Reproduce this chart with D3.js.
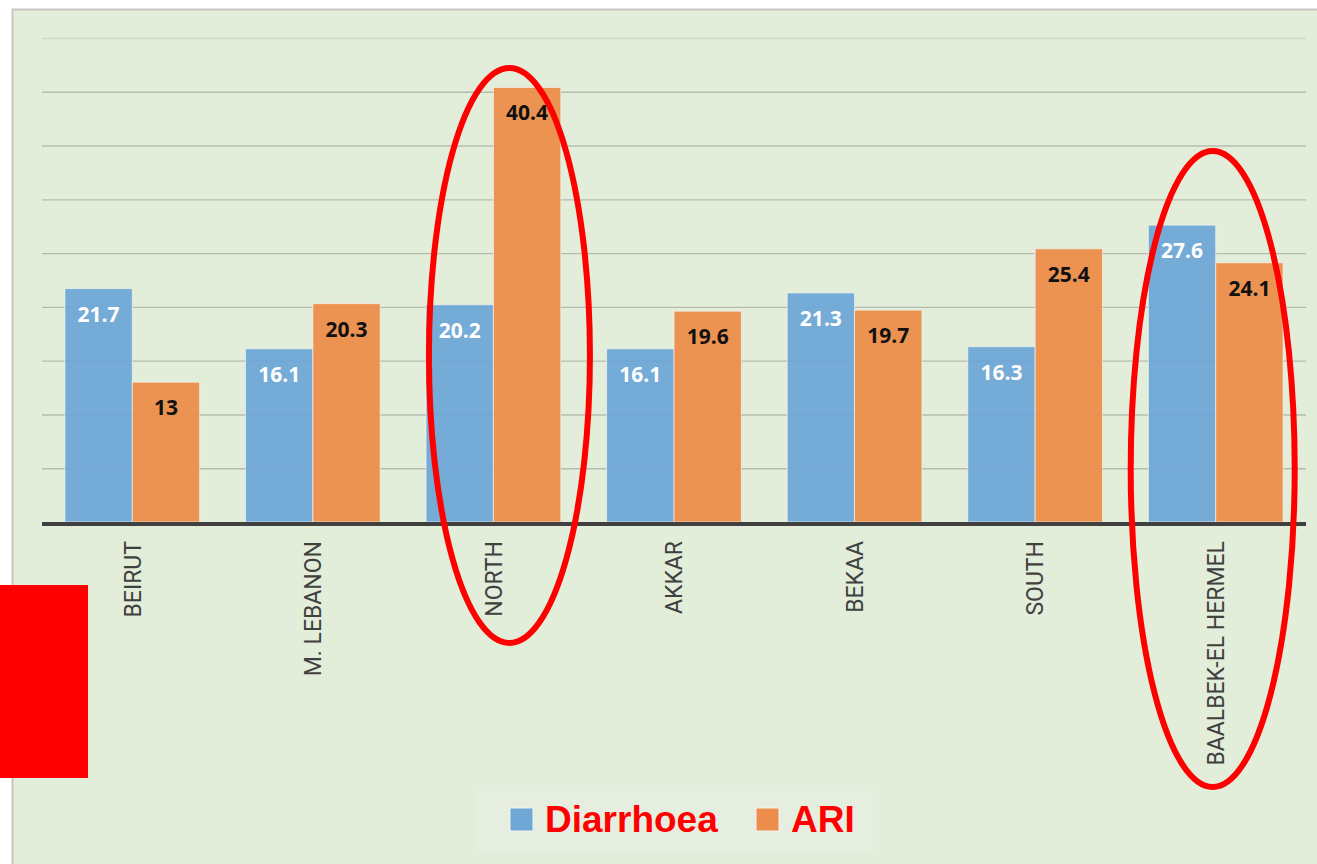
<!DOCTYPE html>
<html>
<head>
<meta charset="utf-8">
<script src="https://cdn.jsdelivr.net/npm/d3@7"></script>
<style>
  body { margin: 0; background: #fff; }
  svg { display: block; }
</style>
</head>
<body>
<svg width="1317" height="864"></svg>
<script>
var regions = ["BEIRUT", "M. LEBANON", "NORTH", "AKKAR", "BEKAA", "SOUTH", "BAALBEK-EL HERMEL"];
var series = ["Diarrhoea", "ARI"];
var diarrhoea = [21.7, 16.1, 20.2, 16.1, 21.3, 16.3, 27.6];
var ari = [13, 20.3, 40.4, 19.6, 19.7, 25.4, 24.1];
var gridTicks = [5, 10, 15, 20, 25, 30, 35, 40, 45];
var colors = ["#6fa7d7", "#ec8d4b"];

var svg = d3.select("svg"),
    plotLeft = 42, plotRight = 1306, plotTop = 38, base = 522;

// frame
svg.append("rect")
  .attr("x", 12.5).attr("y", 9.5)
  .attr("width", 1400).attr("height", 1000)
  .attr("fill", "#e2eed9")
  .attr("stroke", "#c6c6c6")
  .attr("stroke-width", 2);

var x0 = d3.scaleBand().domain(regions).range([plotLeft, plotRight]).padding(0),
    x1 = d3.scaleBand().domain(series).range([0, x0.bandwidth()]).paddingOuter(0.34),
    y = d3.scaleLinear().domain([0, 45]).range([base, plotTop]);

// gridlines
svg.append("g")
  .selectAll("line")
  .data(gridTicks)
  .enter().append("line")
  .attr("x1", plotLeft).attr("x2", plotRight)
  .attr("y1", function(d) { return y(d) + 0.5; })
  .attr("y2", function(d) { return y(d) + 0.5; })
  .attr("stroke", function(d) { return d == 45 ? "#d0d9c8" : "#b5bcaf"; })
  .attr("stroke-width", 1.4);

var rows = regions.map(function(r, i) { return {region: r, values: [diarrhoea[i], ari[i]]}; });

var group = svg.selectAll(".grp")
  .data(rows)
  .enter().append("g")
  .attr("class", "grp")
  .attr("transform", function(d) { return "translate(" + x0(d.region) + ",0)"; });

var bars = group.selectAll("g.bar")
  .data(function(d) { return d.values.map(function(v, j) { return {key: series[j], value: v, j: j}; }); })
  .enter().append("g").attr("class", "bar");

bars.append("rect")
  .attr("x", function(d) { return x1(d.key); })
  .attr("width", x1.bandwidth())
  .attr("y", function(d) { return y(d.value); })
  .attr("height", function(d) { return base - y(d.value); })
  .attr("fill", function(d) { return colors[d.j]; })
  .attr("fill-opacity", 0.95)
  .attr("stroke", "#f3f3ee")
  .attr("stroke-opacity", 0.7)
  .attr("stroke-width", 1);

bars.append("text")
  .attr("x", function(d) { return x1(d.key) + x1.bandwidth() / 2; })
  .attr("y", function(d) { return y(d.value) + 33; })
  .attr("text-anchor", "middle")
  .style("font", "bold 21px 'Open Sans', sans-serif")
  .attr("fill", function(d) { return d.j == 0 ? "#ffffff" : "#111111"; })
  .text(function(d) { return d.value; });

// baseline
svg.append("line")
  .attr("x1", plotLeft).attr("x2", plotRight)
  .attr("y1", base + 2).attr("y2", base + 2)
  .attr("stroke", "#404040")
  .attr("stroke-width", 4);

// category labels
svg.append("g")
  .selectAll("text")
  .data(regions)
  .enter().append("text")
  .attr("transform", function(d) { return "translate(" + (x0(d) + x0.bandwidth() / 2) + ",541) rotate(-90)"; })
  .attr("text-anchor", "end")
  .attr("dy", "0.36em")
  .style("font", "23px Roboto, sans-serif")
  .attr("fill", "#404040")
  .text(function(d) { return d; });

// legend
var legend = svg.append("g");
legend.append("rect")
  .attr("x", 474).attr("y", 786)
  .attr("width", 399).attr("height", 67)
  .attr("fill", "#e6efdf");

var legendX = [510, 756];
series.forEach(function(s, i) {
  legend.append("rect")
    .attr("x", legendX[i]).attr("y", 808)
    .attr("width", 23).attr("height", 23)
    .attr("fill", colors[i])
    .attr("stroke", "#f3f3ee").attr("stroke-width", 1);
  legend.append("text")
    .attr("x", legendX[i] + 35).attr("y", 832)
    .style("font", "bold 37px 'Liberation Sans', Arial, sans-serif")
    .attr("fill", "#ff0000")
    .text(s);
});

// red annotations
var ellipses = [
  {region: "NORTH", dx: 16, cy: 355.5, rx: 80.5, ry: 287.5},
  {region: "BAALBEK-EL HERMEL", dx: -3, cy: 469, rx: 82, ry: 318}
];
svg.append("g")
  .selectAll("ellipse")
  .data(ellipses)
  .enter().append("ellipse")
  .attr("cx", function(d) { return x0(d.region) + x0.bandwidth() / 2 + d.dx; })
  .attr("cy", function(d) { return d.cy; })
  .attr("rx", function(d) { return d.rx; })
  .attr("ry", function(d) { return d.ry; })
  .attr("fill", "none")
  .attr("stroke", "#ff0000")
  .attr("stroke-width", 6);

svg.append("rect")
  .attr("x", 0).attr("y", 585)
  .attr("width", 88).attr("height", 193)
  .attr("fill", "#ff0000");
</script>
</body>
</html>
